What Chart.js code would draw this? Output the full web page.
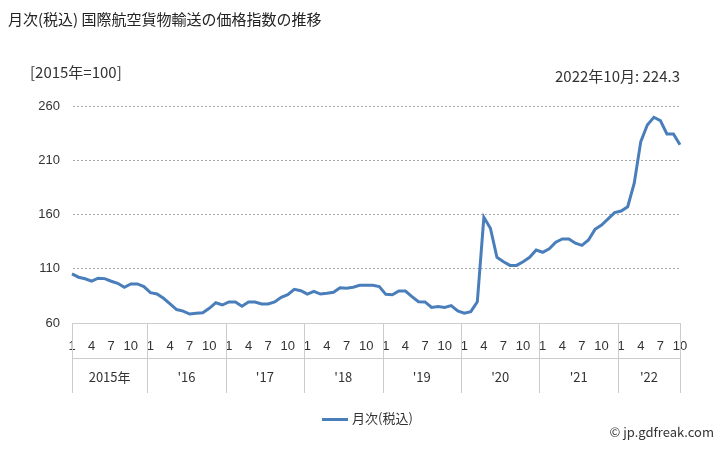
<!DOCTYPE html>
<html><head><meta charset="utf-8">
<script src="https://cdn.jsdelivr.net/npm/chart.js@4"></script>
<style>
body{margin:0;background:#fff;font-family:"Noto Sans CJK JP","Noto Sans",sans-serif;color:#333}
#wrap{position:relative;width:728px;height:450px}
.t{position:absolute;white-space:nowrap}
</style></head><body>
<div id="wrap">
<canvas id="c" width="728" height="450"></canvas>
<div class="t" style="left:8px;top:8px;font-size:15px;color:#222">月次(税込) 国際航空貨物輸送の価格指数の推移</div>
<div class="t" style="left:30px;top:61px;font-size:15px">[2015年=100]</div>
<div class="t" style="right:48px;top:65px;font-size:15px">2022年10月: 224.3</div>
<div class="t" style="left:322px;top:408px;font-size:13px"><span style="display:inline-block;width:26px;height:3px;background:#4a7ebb;vertical-align:middle;margin-right:4px"></span>月次(税込)</div>
<div class="t" style="right:14px;top:422px;font-size:13px">© jp.gdfreak.com</div>
</div>
<script>
const years = ['2015年', "'16", "'17", "'18", "'19", "'20", "'21", "'22"];
const yTicks = [60, 110, 160, 210, 260];
const values = [
  105.2, 102.2, 100.8, 98.5, 101.3, 100.9, 98.5, 96.6, 92.9, 96, 96, 93.5,
  88, 86.7, 82.8, 77.6, 72.4, 71, 68.3, 68.9, 69.5, 73.5, 78.7, 76.6,
  79.4, 79.4, 75.5, 79.4, 79.4, 77.5, 77.5, 79.4, 83.7, 86.1, 91, 89.8,
  86.7, 89.2, 86.7, 87.4, 88.3, 92.5, 92, 92.9, 94.7, 94.7, 94.7, 93.5,
  86.4, 86, 89.5, 89.5, 84.3, 79.6, 79.4, 74.4, 75.3, 74.4, 76, 71.1,
  69, 70.5, 79.6, 157.4, 147.3, 120.5, 116.5, 113.1, 113.1, 116.5, 120.5, 127.3,
  125.2, 128.3, 134.4, 137.4, 137.4, 133.5, 131.6, 136.5, 146.3, 150.3, 155.9, 161.7,
  163.2, 167.2, 188.8, 227.2, 242.5, 249.6, 246.5, 234.2, 234.2, 224.3
];
const labels = values.map((v, i) => String(i % 12 + 1));

const yearRow = {
  id: 'yearRow',
  afterDraw(chart) {
    const ctx = chart.ctx, x = chart.scales.x, top = chart.chartArea.bottom;
    ctx.save();
    ctx.strokeStyle = '#ccc';
    ctx.lineWidth = 1;
    ctx.fillStyle = '#333';
    ctx.font = '13px "Noto Sans CJK JP", sans-serif';
    ctx.textAlign = 'center';
    ctx.textBaseline = 'middle';
    for (let y = 0; y <= years.length; y++) {
      let i = y * 12;
      let px = y === 0 ? x.left : (i >= values.length ? x.right : x.getPixelForValue(i - 0.5));
      px = Math.round(px) + 0.5;
      ctx.beginPath(); ctx.moveTo(px, top); ctx.lineTo(px, top + 70); ctx.stroke();
    }
    ctx.beginPath(); ctx.moveTo(x.left, top + 35.5); ctx.lineTo(x.right, top + 35.5); ctx.stroke();
    years.forEach((yr, k) => {
      const a = k === 0 ? x.left : x.getPixelForValue(k * 12 - 0.5);
      const b = k === years.length - 1 ? x.right : x.getPixelForValue(k * 12 + 11.5);
      ctx.fillText(yr, (a + b) / 2, top + 54);
    });
    ctx.restore();
  }
};

new Chart(document.getElementById('c'), {
  type: 'line',
  data: { labels, datasets: [{ data: values, borderColor: '#4a7ebb', borderWidth: 3, pointRadius: 0, tension: 0 }] },
  options: {
    responsive: false, animation: false,
    layout: { padding: { left: 30, right: 48, top: 106, bottom: 57 } },
    plugins: { legend: { display: false }, tooltip: { enabled: false } },
    scales: {
      x: {
        offset: false,
        grid: { display: false },
        border: { color: '#ccc' },
        afterFit(s) { s.height = 70; },
        ticks: {
          autoSkip: false, maxRotation: 0, color: '#333', padding: 8,
          font: { size: 13 },
          callback: (v, i) => (i % 3 === 0 ? labels[i] : '')
        }
      },
      y: {
        min: 60, max: 260,
        afterFit(s) { s.width = 42; },
        afterBuildTicks(s) { s.ticks = yTicks.map(v => ({ value: v })); },
        grid: { color: '#aaa', drawTicks: false },
        border: { display: true, color: 'rgba(0,0,0,0)', dash: [2, 2] },
        ticks: { color: '#333', font: { size: 13 }, padding: 12 }
      }
    }
  },
  plugins: [yearRow]
});
</script>
</body></html>
